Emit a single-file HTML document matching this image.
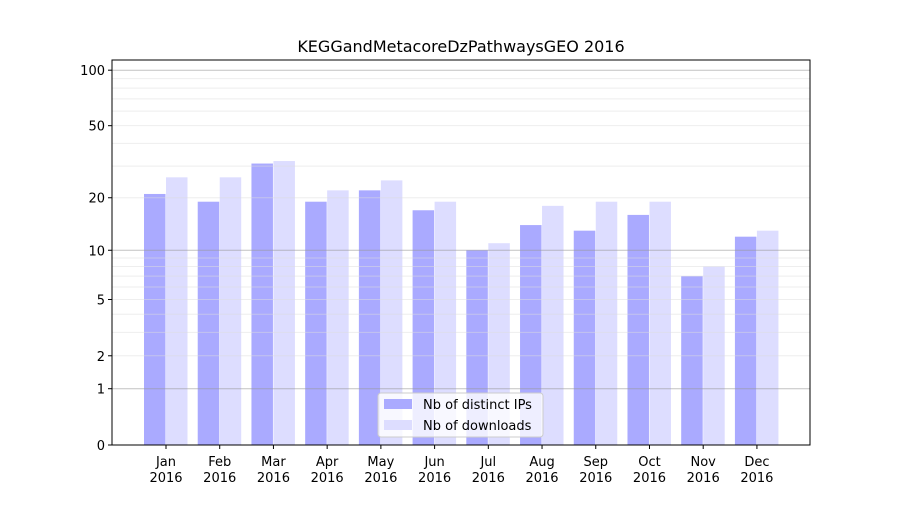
<!DOCTYPE html>
<html><head><meta charset="utf-8"><style>
body{margin:0;background:#fff}
svg text{font-family:"DejaVu Sans","Liberation Sans",sans-serif;font-size:13px;fill:#000}
</style></head><body>
<svg id="c" width="900" height="500" xmlns="http://www.w3.org/2000/svg">
<rect width="900" height="500" fill="#fff"/>
<text x="461" y="52" text-anchor="middle" style="font-size:16px">KEGGandMetacoreDzPathwaysGEO 2016</text>
<g id="bars"></g><g id="grid"></g><g id="axes"></g>
<g>
<rect x="378" y="393" width="165" height="44" rx="3" fill="#fff" fill-opacity="0.8" stroke="#ccc"/>
<rect x="384" y="399" width="28" height="10" fill="#aaaaff"/>
<text x="423" y="409">Nb of distinct IPs</text>
<rect x="384" y="420" width="28" height="10" fill="#ddddff"/>
<text x="423" y="430">Nb of downloads</text>
</g>
</svg>
<script>
const months=["Jan","Feb","Mar","Apr","May","Jun","Jul","Aug","Sep","Oct","Nov","Dec"];
const ips=[21,19,31,19,22,17,10,14,13,16,7,12];
const downloads=[26,26,32,22,25,19,11,18,19,19,8,13];
const yTicks=[0,1,2,5,10,20,50,100];
const NS="http://www.w3.org/2000/svg";
const L=112,R=810,T=60,B=445,K=187;
const y=v=>B-K*Math.log10(1+v);
const x=i=>166+i*53.72;
function mk(p,t,a){const e=document.createElementNS(NS,t);for(const k in a)e.setAttribute(k,a[k]);p.appendChild(e);return e;}
const g=document.getElementById('grid'),b=document.getElementById('bars'),ax=document.getElementById('axes');
for(let d=1;d<=100;d*=10)for(let m=1;m<10;m++){const v=d*m;if(v>110)break;const yy=y(v);
const ln=mk(g,'line',{x1:L,x2:R,y1:yy,y2:yy,stroke:m==1?'#999':'#ddd','stroke-opacity':m==1?0.6:0.5,'stroke-width':1});

}
months.forEach((mo,i)=>{
const r1=mk(b,'rect',{x:x(i)-22,y:y(ips[i]),width:21.5,height:B-y(ips[i]),fill:'#aaaaff'});


const r2=mk(b,'rect',{x:x(i),y:y(downloads[i]),width:21.5,height:B-y(downloads[i]),fill:'#ddddff'});


mk(ax,'line',{x1:x(i),x2:x(i),y1:B,y2:B+4,stroke:'#000'});
const t1=mk(ax,'text',{x:x(i),y:B+21,'text-anchor':'middle'});t1.textContent=mo;


const t2=mk(ax,'text',{x:x(i),y:B+37,'text-anchor':'middle'});t2.textContent='2016';


});
yTicks.forEach(v=>{const yy=y(v);
mk(ax,'line',{x1:L-4,x2:L,y1:yy,y2:yy,stroke:'#000'});
const t=mk(ax,'text',{x:L-7,y:yy+5,'text-anchor':'end'});t.textContent=v;

});
const fr=mk(ax,'rect',{x:L,y:T,width:R-L,height:B-T,fill:'none',stroke:'#000'});


</script>
</body></html>
